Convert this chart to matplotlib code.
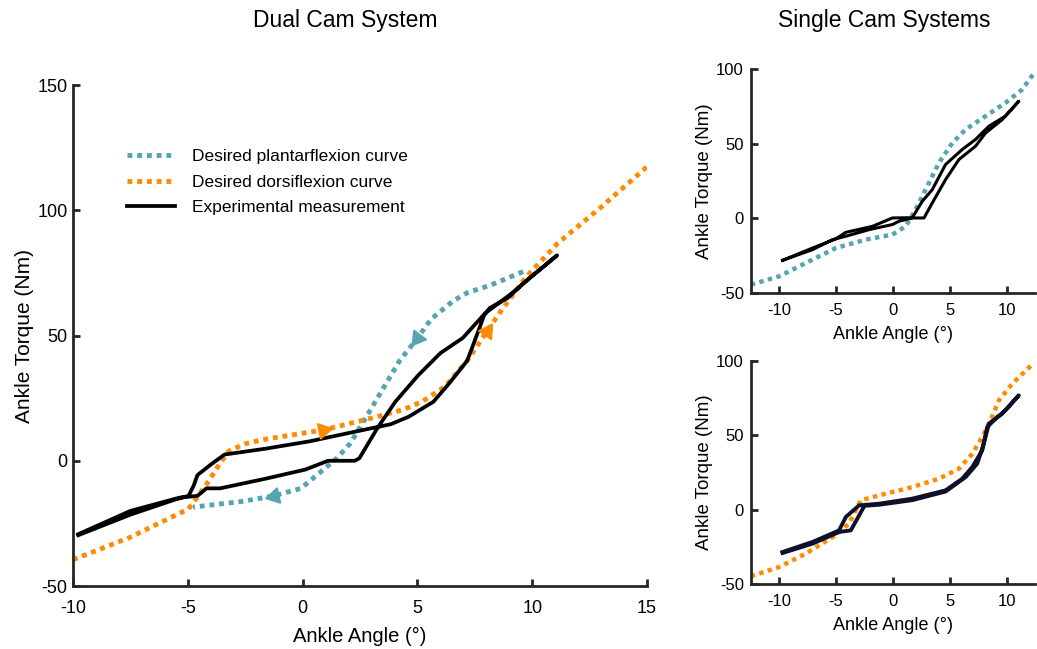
import numpy as np
import matplotlib
matplotlib.use("Agg")
import matplotlib.pyplot as plt

plt.rcParams['font.family'] = ['Liberation Sans', 'DejaVu Sans']
plt.rcParams['axes.unicode_minus'] = False

BLUE = '#55a5b0'
ORANGE = '#ff8c00'

# ---- Dual cam system ----
dorsi_x = [-10, -7.5, -4.97, -4.19, -3.6, -3.2, -2.5, -1.64, 0.9, 3.25, 4.4, 5.2, 6.2, 7.17, 8.05, 8.73, 9.7, 11.08, 13.04, 15]
dorsi_y = [-39.5, -30.5, -19.2, -9.5, -1, 4, 6.8, 8.6, 12.3, 17.6, 20.5, 23.6, 29.6, 40, 52, 61, 73, 86.6, 101.6, 117.4]

plantar_x = [9.6, 8.15, 7.2, 6.58, 5.6, 5.0, 4.23, 3.45, 2.67, 2.08, 1.49, 0.71, -0.07, -1.25, -2.62, -4.77]
plantar_y = [75.5, 70, 67.2, 64, 56.6, 49, 40, 28, 16, 7, 1, -5, -11, -14, -16.2, -18.5]

exp_x = [-9.77, -7.5, -5.56, -4.97, -4.75, -4.58, -4.0, -3.4, -1.64, 0.32, 2.27, 3.84, 4.62, 5.7, 6.39, 7.17, 7.66,
         7.9, 8.15, 8.93, 9.71, 11.08, 10.1, 9.13, 7.95, 6.97, 6.0, 5.02, 4.04, 3.25, 2.47, 2.27, 1.1, 0.12,
         -1.64, -3.6, -4.19, -4.58, -5.36, -7.5, -9.77]
exp_y = [-29.7, -21.5, -15.5, -14, -10, -5.7, -1.5, 2.5, 4.8, 7.8, 11.6, 14.6, 17.6, 23.6, 31, 40, 52,
         58, 61, 65, 71.6, 82, 74.6, 67, 58.9, 49, 43, 34, 23.6, 13, 1, 0, 0, -3.5,
         -7.2, -11, -11, -14, -14.7, -20, -29.3]

# ---- Single cam: plantarflexion ----
sp_des_x = [-12.5, -10, -7.66, -5.02, -2.39, -0.04, 1.13, 2.0, 2.88, 4.05, 5.23, 6.4, 8.15, 9.9, 11.38, 12.4]
sp_des_y = [-44.4, -38.8, -29.9, -19.9, -14.3, -10.9, -5.4, 5.8, 19.2, 37, 50.4, 59.4, 68.3, 77.2, 86.2, 96.9]
sp_exp_x = [-9.7, -7.07, -5.02, -4.14, -1.8, -0.04, 1.71, 2.59, 3.47, 4.64, 6.1, 7.27, 8.45, 9.9, 11.08,
            9.62, 8.15, 7.27, 5.81, 4.64, 3.47, 2.74, 1.71, 0.54, -0.04, -2.09, -4.14, -5.31, -7.07, -9.7]
sp_exp_y = [-28.1, -19.9, -13.8, -9.4, -5.4, 0.2, 0.4, 11.4, 19.2, 36, 46, 52.7, 61.6, 68.3, 78.3,
            66, 57, 48.2, 39.3, 25.9, 10.3, 0.2, 0.2, -2, -4.2, -7.6, -12, -14.3, -21, -28.1]

# ---- Single cam: dorsiflexion ----
sd_des_x = [-12.5, -10, -7.66, -5.31, -3.85, -2.83, -1.22, 1.71, 4.05, 5.81, 6.99, 7.86, 8.6, 9.33, 10.5, 12.26]
sd_des_y = [-44.8, -38.5, -29.5, -18.4, -9.4, 6.3, 9.6, 15.2, 20.8, 27.5, 37.6, 48.8, 60, 73.4, 84.6, 97.6]
sd_exp_x = [-9.7, -7.07, -4.73, -4.14, -2.97, -1.22, 1.71, 4.64, 6.1, 6.99, 7.86, 8.3, 9.03, 9.9, 11.08,
            9.62, 8.45, 8.0, 7.42, 6.4, 4.64, 1.71, -1.22, -2.5, -3.7, -4.73, -7.07, -9.7]
sd_exp_y = [-28.4, -21.7, -13.9, -4.9, 2.9, 4, 7.4, 13, 20.8, 28.7, 39.8, 55.5, 61.1, 66.7, 76.8,
            64.5, 57.8, 44.3, 30.9, 21.9, 12.2, 6.4, 3.3, 2.6, -13.9, -15, -22.8, -29.1]

# arrow positions (x values along the desired curves)
dorsi_arrows = [0.9, 8.05]
plantar_arrows = [5.0, -1.25]


def style_axes(ax, xlim, ylim, xticks, yticks, fs, xpad, ypad):
    ax.set_xlim(xlim)
    ax.set_ylim(ylim)
    ax.set_xticks(xticks)
    ax.set_yticks(yticks)
    for s in ['top', 'right']:
        ax.spines[s].set_visible(False)
    for s in ['left', 'bottom']:
        ax.spines[s].set_linewidth(2)
        ax.spines[s].set_color('#262626')
    ax.tick_params(direction='in', length=5, width=2, color='#262626', labelsize=fs)
    ax.tick_params(axis='x', pad=xpad)
    ax.tick_params(axis='y', pad=ypad)


def add_arrow(ax, xs, ys, x0, color):
    xs = np.asarray(xs, float)
    ys = np.asarray(ys, float)
    i = int(np.argmin(np.abs(xs - x0)))
    j0, j1 = max(i - 1, 0), min(i + 1, len(xs) - 1)
    p0 = ax.transData.transform((xs[j0], ys[j0]))
    p1 = ax.transData.transform((xs[j1], ys[j1]))
    ang = np.degrees(np.arctan2(p1[1] - p0[1], p1[0] - p0[0]))
    ax.plot(xs[i], ys[i], marker=(3, 0, ang - 90), ms=13, color=color, mec=color, zorder=4)


fig = plt.figure(figsize=(10.37, 6.49), dpi=100)

# main axes
ax = fig.add_axes([0.0704, 0.097, 0.5536, 0.772])
style_axes(ax, (-10, 15), (-50, 150), [-10, -5, 0, 5, 10, 15], [-50, 0, 50, 100, 150], 13, 10, 4)
ax.plot(plantar_x, plantar_y, color=BLUE, lw=3.5, dashes=(1, 1), label='Desired plantarflexion curve', zorder=2)
ax.plot(dorsi_x, dorsi_y, color=ORANGE, lw=3.5, dashes=(1, 1), label='Desired dorsiflexion curve', zorder=2)
ax.plot(exp_x, exp_y, color='black', lw=2.7, label='Experimental measurement', zorder=3)
for xa in dorsi_arrows:
    add_arrow(ax, dorsi_x, dorsi_y, xa, ORANGE)
# plantar curve is stored from right to left so arrows point down-left
for xa in plantar_arrows:
    add_arrow(ax, plantar_x, plantar_y, xa, BLUE)
ax.set_xlabel('Ankle Angle (°)', fontsize=14.5, labelpad=7)
ax.set_ylabel('Ankle Torque (Nm)', fontsize=15, labelpad=2)
ax.legend(loc='upper left', bbox_to_anchor=(0.082, 0.886), frameon=False, fontsize=12.5,
          handlelength=2.75, handletextpad=1.0, labelspacing=0.6, borderaxespad=0)

# single cam plantarflexion
ax2 = fig.add_axes([0.724, 0.5485, 0.274, 0.3455])
style_axes(ax2, (-12.5, 12.5), (-50, 100), [-10, -5, 0, 5, 10], [-50, 0, 50, 100], 12, 7, 5)
ax2.plot(sp_des_x, sp_des_y, color=BLUE, lw=3.2, dashes=(1, 1), zorder=2)
ax2.plot(sp_exp_x, sp_exp_y, color='black', lw=2.2, zorder=3)
ax2.set_xlabel('Ankle Angle (°)', fontsize=13, labelpad=6)
ax2.set_ylabel('Ankle Torque (Nm)', fontsize=13.5, labelpad=2)

# single cam dorsiflexion
ax3 = fig.add_axes([0.724, 0.100, 0.274, 0.344])
style_axes(ax3, (-12.5, 12.5), (-50, 100), [-10, -5, 0, 5, 10], [-50, 0, 50, 100], 12, 7, 5)
ax3.plot(sd_des_x, sd_des_y, color=ORANGE, lw=3.2, dashes=(1, 1), zorder=2)
ax3.plot(sd_exp_x, sd_exp_y, color='#10102a', lw=2.8, zorder=3)
ax3.set_xlabel('Ankle Angle (°)', fontsize=13, labelpad=6)
ax3.set_ylabel('Ankle Torque (Nm)', fontsize=13.5, labelpad=2)

fig.text(0.333, 0.968, 'Dual Cam System', ha='center', va='center', fontsize=16.5)
fig.text(0.853, 0.968, 'Single Cam Systems', ha='center', va='center', fontsize=16.5)

fig.savefig('out.png', dpi=100)
